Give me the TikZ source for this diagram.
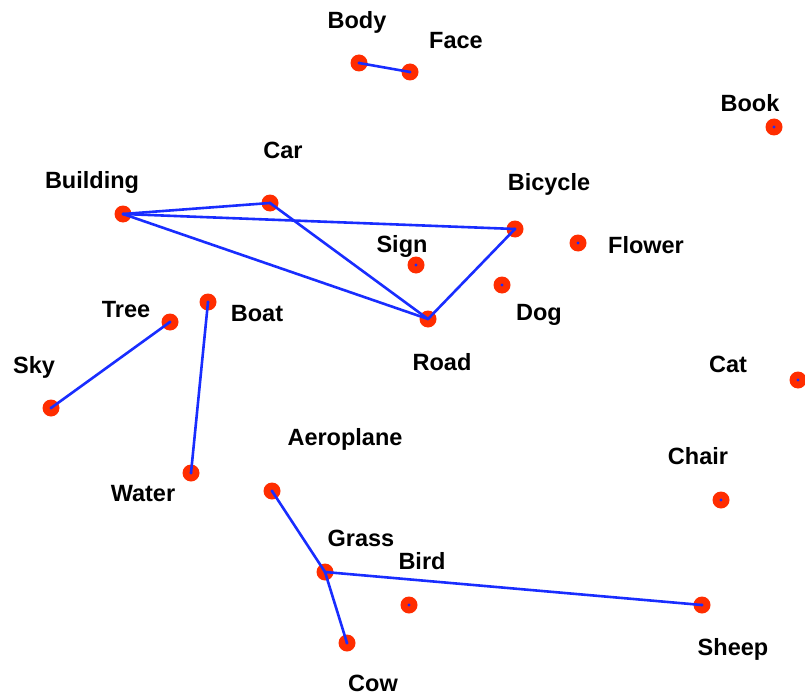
\documentclass[tikz,border=0pt]{standalone}
\usepackage{fontspec}
\setmainfont{Liberation Sans}
\definecolor{dotred}{RGB}{255,45,0}
\definecolor{linkblue}{RGB}{25,45,255}
\begin{document}
\begin{tikzpicture}[x=1pt,y=-1pt,
  pt/.style={circle,fill=dotred,minimum size=17pt,inner sep=0pt},
  lbl/.style={font=\bfseries\fontsize{23.5}{26}\selectfont,inner sep=0pt},
  link/.style={draw=linkblue,line width=2.6pt}]
\useasboundingbox (0,0) rectangle (805,695);
\foreach \n/\x/\y in {Body/359/63,Face/410/72,Book/774/127,Car/270/203,Building/123/214,Bicycle/515/229,Flower/578/243,Sign/416/265,Dog/502/285,Road/428/319,Tree/170/322,Boat/208/302,Sky/51/408,Cat/798/380,Water/191/473,Aeroplane/272/491,Chair/721/500,Grass/325/572,Bird/409/605,Sheep/702/605,Cow/347/643}{
  \node[pt] (\n) at (\x,\y) {};
  \fill[linkblue] (\x,\y) circle (1.6pt);
}
\foreach \n/\x/\y in {Body/357/22,Face/456/41,Book/750/103,Car/283/150,Building/92/182,Bicycle/549/184,Flower/646/245,Sign/402/246,Dog/539/315,Road/442/362,Tree/126/310,Boat/257/314,Sky/34/367,Cat/728/364,Water/143/494,Aeroplane/345/439,Chair/698/456,Grass/361/538,Bird/422/561,Sheep/733/649,Cow/373/683}{
  \node[lbl] (\n-l) at (\x,\y) {\n};
}
\foreach \a/\b in {Body/Face,Building/Car,Building/Bicycle,Building/Road,Car/Road,Bicycle/Road,Tree/Sky,Boat/Water,Aeroplane/Grass,Grass/Sheep,Grass/Cow}{
  \draw[link] (\a.center) -- (\b.center);
}
\end{tikzpicture}
\end{document}
